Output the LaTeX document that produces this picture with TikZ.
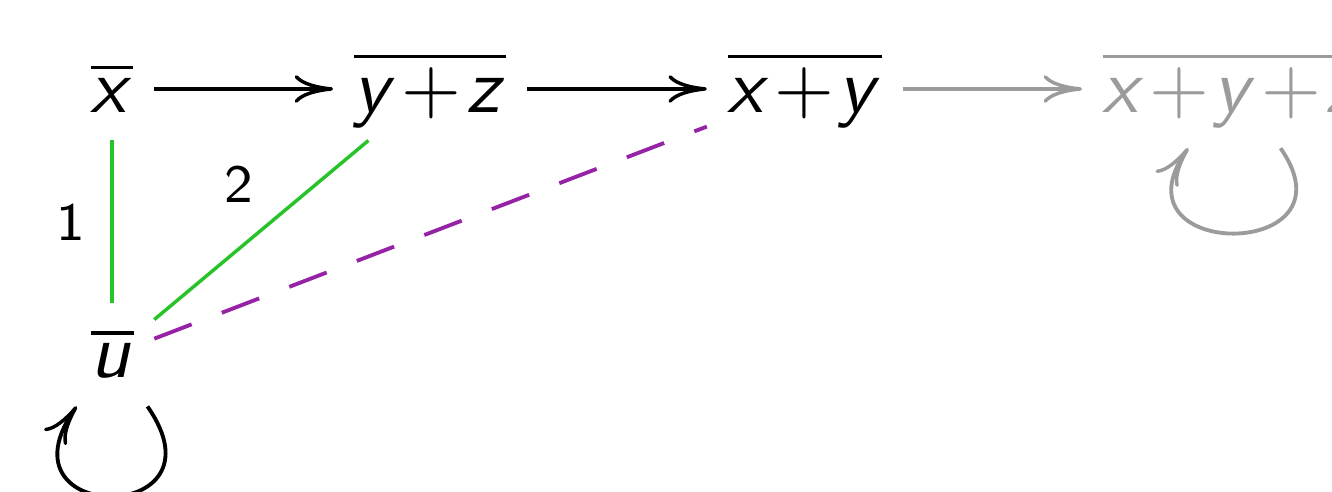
\documentclass[tikz,border=0pt]{standalone}
\usetikzlibrary{arrows.meta}
\DeclareMathAlphabet{\mathssl}{OT1}{cmss}{m}{sl}
\definecolor{linkgreen}{RGB}{40,195,40}
\definecolor{linkpurple}{RGB}{150,35,165}
\definecolor{fadegray}{RGB}{155,155,155}

\begin{document}
\begin{tikzpicture}[
    term/.style={anchor=base, inner sep=2.5pt, text height=7pt, text depth=1pt,
                 execute at begin node={\medmuskip=1mu}},
    arrow/.style={-{Computer Modern Rightarrow[length=5pt, width=3.6pt, line width=0.45pt]}, line width=0.5pt},
    link/.style={linkgreen, line width=0.45pt},
    guess/.style={linkpurple, line width=0.5pt, dash pattern=on 5.2pt off 4.2pt},
    weight/.style={text=black, font=\sffamily\scriptsize}
]
\clip (0,0) rectangle (6.086,2.248);
\node[term] (x)   at (0.512,1.736) {$\overline{\mathssl{x}}$};
\node[term] (yz)  at (1.965,1.736) {$\overline{\mathssl{y}+\mathssl{z}}$};
\node[term] (xy)  at (3.678,1.736) {$\overline{\mathssl{x}+\mathssl{y}}$};
\node[term, fadegray] (xyz) at (5.64,1.736) {$\overline{\mathssl{x}+\mathssl{y}+\mathssl{z}}$};
\node[term] (u)   at (0.512,0.521) {$\overline{\mathssl{u}}$};

\draw[arrow] (x)  -- (yz);
\draw[arrow] (yz) -- (xy);
\draw[arrow, fadegray] (xy) -- (xyz);

\draw[link] (x)  -- node[weight, left] (w1) {1} (u);
\draw[link] (yz) -- node[weight, above left, xshift=2.5pt] (w2) {2} (u);
\draw[guess] (u) -- (xy);

\draw[arrow] ([xshift=4.6pt]u.south) to[out=-55, in=-125, distance=19pt] ([xshift=-4.6pt]u.south);
\draw[arrow, fadegray] ([xshift=6pt,yshift=-1pt]xyz.south) to[out=-55, in=-125, distance=18pt] ([xshift=-6pt,yshift=-1pt]xyz.south);
\end{tikzpicture}
\end{document}
